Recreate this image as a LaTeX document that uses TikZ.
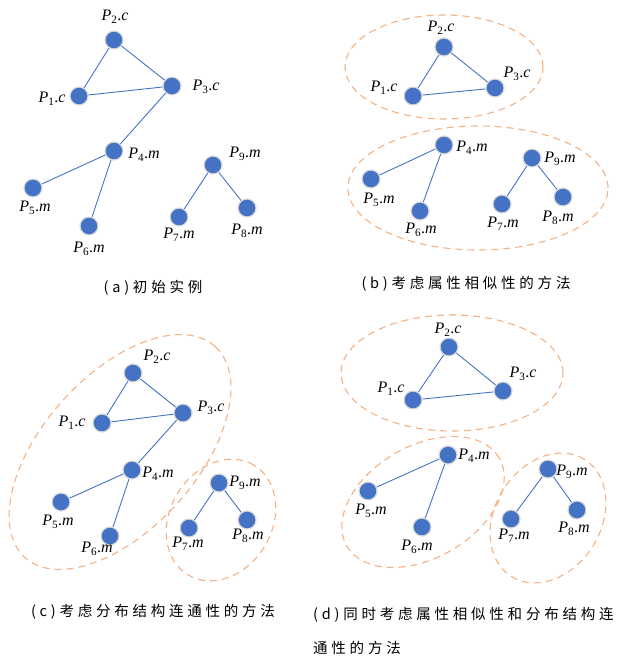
\documentclass[tikz,border=0pt]{standalone}
\usepackage{fontspec}
\setmainfont{Liberation Serif}
\newfontfamily\cjkfont[LetterSpace=26]{Noto Sans CJK SC}
\usepackage{xcolor}
\definecolor{ptblue}{HTML}{4472C4}
\definecolor{grporange}{HTML}{F4B183}
\newcommand{\ptag}[2]{\textit{P}\textsubscript{#1}.\textit{#2}}

\begin{document}
\begin{tikzpicture}[x=1pt, y=-1pt,
    pt/.style={circle, fill=ptblue, draw=gray!30, line width=1.2pt, minimum size=18pt, inner sep=0pt},
    lbl/.style={font=\fontsize{16}{18}\selectfont, inner sep=0pt},
    link/.style={ptblue, line width=0.9pt},
    grp/.style={grporange, dash pattern=on 7pt off 5pt, line width=1.1pt},
    captext/.style={font=\fontsize{14.5}{34}\cjkfont, inner sep=0pt}]
    \useasboundingbox (0,0) rectangle (622,658);

    % (a)
    \node[pt] (a1) at (79,96) {};
    \node[pt] (a2) at (114,40) {};
    \node[pt] (a3) at (172,86) {};
    \node[pt] (a4) at (114,151) {};
    \node[pt] (a5) at (33,188) {};
    \node[pt] (a6) at (89,226) {};
    \node[pt] (a7) at (179,217) {};
    \node[pt] (a8) at (247,208) {};
    \node[pt] (a9) at (213,165) {};
    \node[lbl] (a1l) at (52,99) {\ptag{1}{c}};
    \node[lbl] (a2l) at (115,17) {\ptag{2}{c}};
    \node[lbl] (a3l) at (206,87) {\ptag{3}{c}};
    \node[lbl] (a4l) at (144,155) {\ptag{4}{m}};
    \node[lbl] (a5l) at (35,208) {\ptag{5}{m}};
    \node[lbl] (a6l) at (89,249) {\ptag{6}{m}};
    \node[lbl] (a7l) at (179,235) {\ptag{7}{m}};
    \node[lbl] (a8l) at (247,231) {\ptag{8}{m}};
    \node[lbl] (a9l) at (245,154) {\ptag{9}{m}};
    \node[captext] (acap) at (153,288) {(a)初始实例};

    % (b)
    \draw[grp] (444,67) ellipse [x radius=99pt, y radius=52pt];
    \draw[grp] (478,188) ellipse [x radius=130pt, y radius=62pt];
    \node[pt] (b1) at (413,96) {};
    \node[pt] (b2) at (444,47) {};
    \node[pt] (b3) at (495,88) {};
    \node[pt] (b4) at (444,145) {};
    \node[pt] (b5) at (371,179) {};
    \node[pt] (b6) at (420,211) {};
    \node[pt] (b7) at (502,204) {};
    \node[pt] (b8) at (563,197) {};
    \node[pt] (b9) at (532,158) {};
    \node[lbl] (b1l) at (384,88) {\ptag{1}{c}};
    \node[lbl] (b2l) at (441,28) {\ptag{2}{c}};
    \node[lbl] (b3l) at (517,74) {\ptag{3}{c}};
    \node[lbl] (b4l) at (472,148) {\ptag{4}{m}};
    \node[lbl] (b5l) at (379,200) {\ptag{5}{m}};
    \node[lbl] (b6l) at (421,230) {\ptag{6}{m}};
    \node[lbl] (b7l) at (503,224) {\ptag{7}{m}};
    \node[lbl] (b8l) at (558,218) {\ptag{8}{m}};
    \node[lbl] (b9l) at (560,159) {\ptag{9}{m}};
    \node[captext] (bcap) at (466,284) {(b)考虑属性相似性的方法};

    % (c)
    \draw[grp, rotate around={48:(120,452)}] (120,452) ellipse [x radius=142pt, y radius=77pt];
    \draw[grp, rotate around={59:(221,520)}] (221,520) ellipse [x radius=64pt, y radius=51pt];
    \node[pt] (c1) at (102,423) {};
    \node[pt] (c2) at (133,373) {};
    \node[pt] (c3) at (183,413) {};
    \node[pt] (c4) at (132,470) {};
    \node[pt] (c5) at (61,502) {};
    \node[pt] (c6) at (110,536) {};
    \node[pt] (c7) at (189,528) {};
    \node[pt] (c8) at (247,520) {};
    \node[pt] (c9) at (219,483) {};
    \node[lbl] (c1l) at (72,423) {\ptag{1}{c}};
    \node[lbl] (c2l) at (157,357) {\ptag{2}{c}};
    \node[lbl] (c3l) at (211,408) {\ptag{3}{c}};
    \node[lbl] (c4l) at (158,474) {\ptag{4}{m}};
    \node[lbl] (c5l) at (58,522) {\ptag{5}{m}};
    \node[lbl] (c6l) at (97,549) {\ptag{6}{m}};
    \node[lbl] (c7l) at (188,544) {\ptag{7}{m}};
    \node[lbl] (c8l) at (248,536) {\ptag{8}{m}};
    \node[lbl] (c9l) at (245,483) {\ptag{9}{m}};
    \node[captext] (ccap) at (153,612) {(c)考虑分布结构连通性的方法};

    % (d)
    \draw[grp] (452,373) ellipse [x radius=111pt, y radius=58pt];
    \draw[grp, rotate around={30:(423,502)}] (423,502) ellipse [x radius=88pt, y radius=56pt];
    \draw[grp, rotate around={58:(548,518)}] (548,518) ellipse [x radius=69pt, y radius=53pt];
    \node[pt] (d1) at (413,400) {};
    \node[pt] (d2) at (449,347) {};
    \node[pt] (d3) at (503,391) {};
    \node[pt] (d4) at (448,455) {};
    \node[pt] (d5) at (368,491) {};
    \node[pt] (d6) at (422,527) {};
    \node[pt] (d7) at (511,519) {};
    \node[pt] (d8) at (577,510) {};
    \node[pt] (d9) at (548,469) {};
    \node[lbl] (d1l) at (391,389) {\ptag{1}{c}};
    \node[lbl] (d2l) at (448,330) {\ptag{2}{c}};
    \node[lbl] (d3l) at (523,374) {\ptag{3}{c}};
    \node[lbl] (d4l) at (474,456) {\ptag{4}{m}};
    \node[lbl] (d5l) at (371,511) {\ptag{5}{m}};
    \node[lbl] (d6l) at (417,547) {\ptag{6}{m}};
    \node[lbl] (d7l) at (514,536) {\ptag{7}{m}};
    \node[lbl] (d8l) at (574,529) {\ptag{8}{m}};
    \node[lbl] (d9l) at (572,472) {\ptag{9}{m}};
    \node[captext, align=left, anchor=north west] (dcap) at (313,607)
        {(d)同时考虑属性相似性和分布结构连\\通性的方法};

    % edges
    \foreach \p in {a,b,c,d}
        \foreach \u/\v in {1/2,2/3,1/3,4/5,4/6,9/7,9/8}
            \draw[link] (\p\u) -- (\p\v);
    \draw[link] (a3) -- (a4);
    \draw[link] (c3) -- (c4);
\end{tikzpicture}
\end{document}
